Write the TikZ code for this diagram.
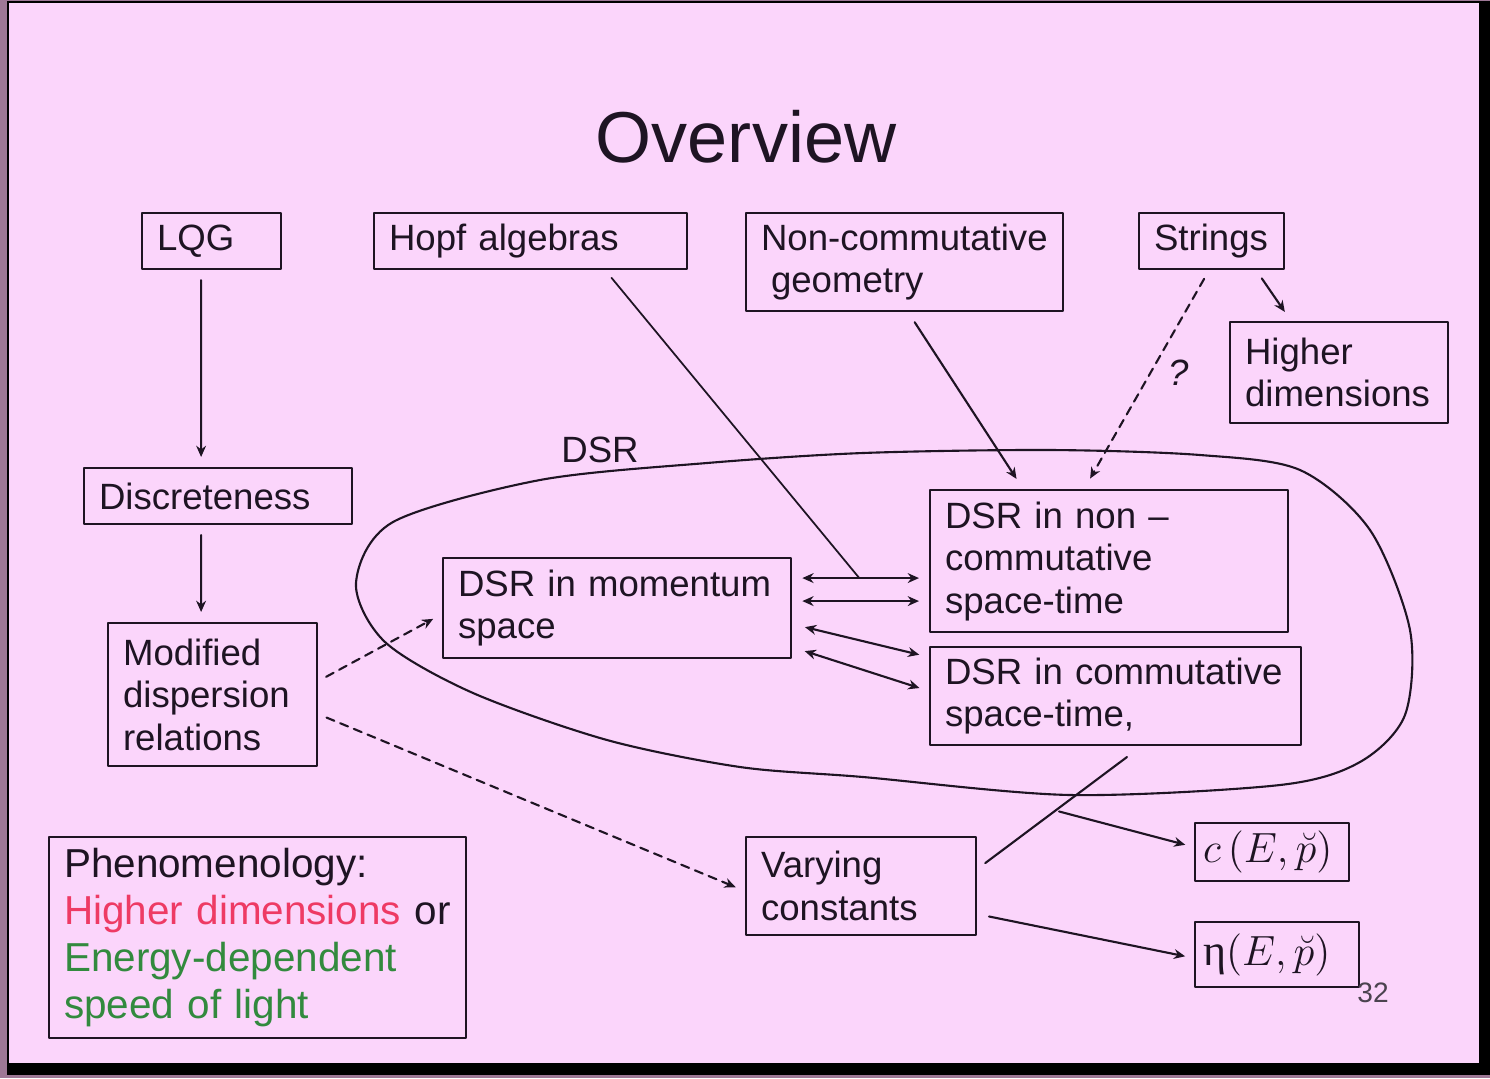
\documentclass[tikz,border=0pt]{standalone}
\usepackage{fontspec}
\setmainfont{Liberation Sans}
\newfontfamily\greekfont{Liberation Serif}
\usetikzlibrary{arrows.meta,calc}
\definecolor{slidepink}{RGB}{251,213,251}
\definecolor{slideedge}{RGB}{158,120,150}
\definecolor{inkdark}{RGB}{30,20,35}
\definecolor{phenored}{RGB}{238,58,100}
\definecolor{phenogreen}{RGB}{50,138,62}
\begin{document}
\begin{tikzpicture}[x=0.01cm, y=-0.01cm, line cap=round, line join=round, >={Stealth[length=3.2pt,width=2.8pt]}, font=\fontsize{10.4}{12.1}\selectfont, inkdark]
	\tikzset{box/.style 2 args={draw, line width=0.6pt, anchor=north west, inner xsep=0.15cm, inner ysep=0pt, align=left, text width=#1, minimum height=#2},
		arr/.style={->, line width=0.6pt, shorten <=0.1cm, shorten >=0.1cm},
		darr/.style={<->, line width=0.6pt, shorten <=0.1cm, shorten >=0.1cm},
		dashedarr/.style={arr, dash pattern=on 2.4pt off 1.8pt}}
	% slide frame
	\fill[slideedge] (0,0) rectangle (1490,1078);
	\fill[black] (7,1) rectangle (1490,1075);
	\fill[slidepink] (9,3) rectangle (1479,1063);
	\useasboundingbox (0,0) rectangle (1490,1078);
	\node[font=\fontsize{20.5}{24}\selectfont] (title) at (746,137) {Overview};
	% top row
	\node[box={1.09cm}{0.56cm}] (lqg) at (141,212) {LQG};
	\node[box={2.83cm}{0.56cm}] (hopf) at (373,212) {Hopf algebras};
	\node[box={2.87cm}{0.98cm}] (ncg) at (745,212) {Non-commutative\\\hspace*{0.1cm}geometry};
	\node[box={1.15cm}{0.56cm}] (strings) at (1138,212) {Strings};
	\node[box={1.88cm}{1.01cm}] (higher) at (1229,321) {Higher\\dimensions};
	% left column
	\node[box={2.38cm}{0.56cm}] (disc) at (83,467) {Discreteness};
	\node[box={1.79cm}{1.43cm}] (mdr) at (107,622) {Modified\\dispersion\\relations};
	% DSR region
	\draw[line width=0.6pt] plot[smooth cycle] coordinates {(356,583) (393,522) (540,480) (707,463) (863,453) (1050,450) (1200,455) (1300,470) (1370,530) (1410,630) (1405,715) (1360,762) (1280,785) (1070,795) (863,777) (740,767) (607,740) (473,693) (385,642)};
	\node (dsrlabel) at (600,450) {DSR};
	\node[box={3.18cm}{1.00cm}] (dsrmom) at (442,557) {DSR in momentum\\space};
	\node[box={3.28cm}{1.42cm}] (dsrnc) at (929,489) {DSR in non --\\commutative\\space-time};
	\node[box={3.41cm}{0.98cm}] (dsrc) at (929,646) {DSR in commutative\\space-time,};
	% bottom
	\node[box={2.00cm}{0.98cm}] (vary) at (745,836) {Varying\\constants};
	\node[box={1.38cm}{0.58cm}, inner xsep=0.08cm, font=\fontsize{12.5}{14}\selectfont] (cep) at (1194,822) {$c\,(E,\breve{p})$};
	\node[box={1.48cm}{0.65cm}, inner xsep=0.08cm, font=\fontsize{12.5}{14}\selectfont] (eta) at (1194,921) {{\greekfont η}$(E,\breve{p})$};
	\node[box={3.87cm}{2.01cm}, font=\fontsize{11.5}{13.4}\selectfont] (pheno) at (48,836) {Phenomenology:\\\textcolor{phenored}{Higher dimensions} or\\\textcolor{phenogreen}{Energy-dependent}\\\textcolor{phenogreen}{speed of light}};
	\node[font=\fontsize{8}{9}\selectfont, text=inkdark!80] (page) at (1373,993) {32};
	% connectors
	\draw[arr] ([xshift=-0.105cm]lqg.south) -- ([xshift=-0.17cm]disc.north);
	\draw[arr] ([xshift=-0.17cm]disc.south) -- ([xshift=-0.115cm]mdr.north);
	\draw[dashedarr, shorten <=0.09cm] ([yshift=0.135cm]mdr.east) -- ([yshift=-0.06cm]dsrmom.west);
	\draw[dashedarr, shorten <=0.09cm] ([yshift=-0.195cm]mdr.east) -- ([yshift=-0.05cm]vary.west);
	\draw[darr] ([yshift=0.3cm]dsrmom.east) -- ([yshift=0.3cm]dsrmom.east -| dsrnc.west);
	\draw[darr] ([yshift=0.07cm]dsrmom.east) -- ([yshift=0.07cm]dsrmom.east -| dsrnc.west);
	\draw[darr, shorten <=0.13cm] ([yshift=-0.16cm]dsrmom.east) -- ([yshift=0.39cm]dsrc.west);
	\draw[darr, shorten <=0.13cm] ([yshift=-0.39cm]dsrmom.east) -- ([yshift=0.05cm]dsrc.west);
	\coordinate (hopfend) at ($([yshift=0.3cm]dsrmom.east)!0.49!([yshift=0.3cm]dsrmom.east -| dsrnc.west)$);
	\draw[line width=0.5pt, shorten <=0.1cm] ([xshift=0.745cm]hopf.south) -- (hopfend);
	\draw[arr, shorten <=0.12cm, shorten >=0.12cm] ([xshift=0.035cm]ncg.south) -- ([xshift=-0.86cm]dsrnc.north);
	\draw[dashedarr, shorten >=0.12cm] ([xshift=-0.025cm]strings.south) -- ([xshift=-0.25cm]dsrnc.north) node[pos=0.47, xshift=0.28cm, font=\fontsize{10.4}{12}\itshape] {?};
	\draw[arr, shorten >=0.11cm] ([xshift=0.445cm]strings.south) -- ([xshift=-0.48cm]higher.north);
	\coordinate (varytop) at (1127,757);
	\draw[line width=0.6pt, shorten <=0.1cm] ([yshift=0.17cm]vary.east) -- (varytop);
	\coordinate (varymid) at ($([xshift=0.1cm,yshift=0.17cm]vary.east)!0.514!(varytop)$);
	\draw[arr, shorten <=0pt, shorten >=0.09cm] (varymid) -- ([yshift=0.05cm]cep.west);
	\draw[arr, shorten <=0.12cm, shorten >=0.09cm] ([yshift=-0.28cm]vary.east) -- ([yshift=-0.035cm]eta.west);
\end{tikzpicture}
\end{document}
